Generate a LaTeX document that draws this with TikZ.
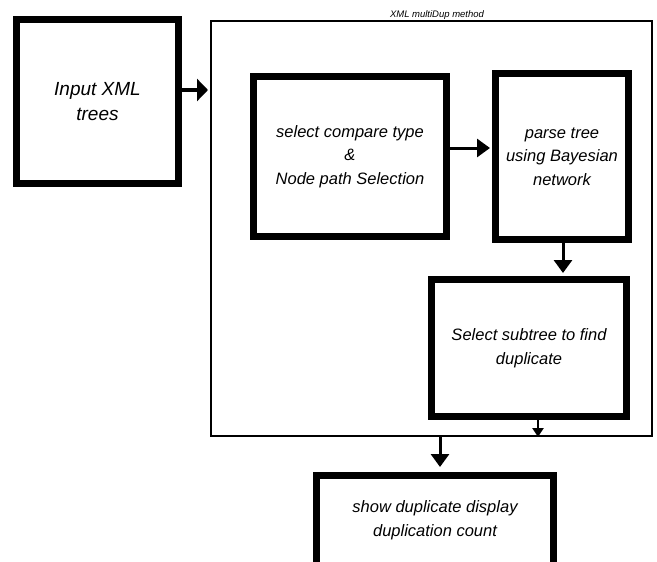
\documentclass[tikz,border=0pt]{standalone}
\usepackage{fontspec}
\setmainfont{Liberation Sans}
\usetikzlibrary{arrows.meta}
\begin{document}
\begin{tikzpicture}[x=1pt,y=-1pt,
  thickbox/.style={draw=black,line width=7pt,rectangle,align=center,inner sep=0pt,
     font=\itshape\fontsize{16.5}{23.5}\selectfont},
  frame/.style={draw=black,line width=2pt,rectangle,inner sep=0pt},
  arrbig/.style={line width=3.5pt,-{Triangle[length=11pt,width=22pt]}},
  arrmid/.style={line width=3pt,-{Triangle[length=13pt,width=18pt]}},
  arrsmall/.style={line width=2.5pt,-{Triangle[length=9pt,width=11pt]}}
]
\clip (0,0) rectangle (657,562);
\fill[white] (0,0) rectangle (657,562);

\node[frame,minimum width=441pt,minimum height=415pt] (container) at (431.5,228.5) {};
\node[anchor=base,font=\itshape\fontsize{9.5}{11}\selectfont] (title) at (437,17) {XML multiDup method};

\node[thickbox,minimum width=162pt,minimum height=164pt,
      font=\itshape\fontsize{19}{25}\selectfont] (input) at (97.5,101.5) {Input XML\\trees};

\node[thickbox,minimum width=193pt,minimum height=160pt] (select) at (350,156.5)
   {select compare type\\\&\\Node path Selection};
\node[thickbox,minimum width=133pt,minimum height=166pt] (parse) at (562,156.5)
   {parse tree\\using Bayesian\\network};
\node[thickbox,minimum width=195pt,minimum height=137pt] (subtree) at (529,348)
   {Select subtree to find\\duplicate};
\node[thickbox,minimum width=237pt,minimum height=120pt,text depth=0pt] (show) at (435,535.5)
   {\raisebox{0pt}{}};
\node[font=\itshape\fontsize{16.5}{23.5}\selectfont,align=center] (showtext) at (435,520)
   {show duplicate display\\duplication count};

\draw[arrbig] ([yshift=11.5pt]input.east) -- ([yshift=11.5pt,xshift=-2pt]input.east -| container.west);
\draw[arrmid] ([yshift=8.5pt]select.east) -- ([yshift=8.5pt,xshift=-2pt]select.east -| parse.west);
\draw[arrmid] ([xshift=1pt]parse.south) -- ([xshift=1pt,yshift=3pt]parse.south |- subtree.north);
\draw[arrsmall] ([xshift=9pt]subtree.south) -- ([xshift=9pt]subtree.south |- container.south);
\draw[arrmid] ([xshift=8.5pt]container.south) -- ([xshift=5pt,yshift=5pt]show.north);
\end{tikzpicture}
\end{document}
